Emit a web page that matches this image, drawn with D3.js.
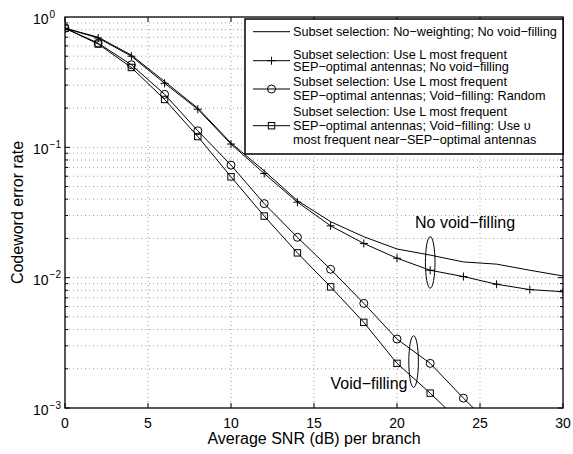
<!DOCTYPE html>
<html><head><meta charset="utf-8">
<script src="https://cdn.jsdelivr.net/npm/d3@7"></script>
<style>body{margin:0;background:#fff}svg{display:block}text{font-family:"Liberation Sans",Arial,Helvetica,sans-serif;fill:#000}</style>
</head><body><div id="chart"></div>
<script>
const snr = [0,2,4,6,8,10,12,14,16,18,20,22,24,26,28,30];
const noWeighting = [0.82,0.70,0.51,0.32,0.20,0.108,0.066,0.039,0.0269,0.0206,0.0166,0.0149,0.0132,0.0127,0.0114,0.0103];
const mostFreqNoVoid = [0.82,0.69,0.50,0.31,0.196,0.106,0.063,0.038,0.025,0.0183,0.0141,0.0114,0.0102,0.0089,0.0081,0.0078];
const voidRandom = [0.82,0.63,0.43,0.255,0.134,0.073,0.037,0.0204,0.0116,0.00635,0.00338,0.0022,0.00119,0.00067];
const voidNearOpt = [0.82,0.62,0.41,0.233,0.121,0.0594,0.0297,0.0155,0.0085,0.00454,0.0022,0.0013,0.00074];
const xTicks = [0,5,10,15,20,25,30];
const yDecades = [1,0.1,0.01,0.001];
const yExponents = ["0","−1","−2","−3"];
const legendLabels = [
  ["Subset selection: No−weighting; No void−filling"],
  ["Subset selection: Use L most frequent","SEP−optimal antennas; No void−filling"],
  ["Subset selection: Use L most frequent","SEP−optimal antennas; Void−filling: Random"],
  ["Subset selection: Use L most frequent","SEP−optimal antennas; Void−filling: Use υ","most frequent near−SEP−optimal antennas"]
];
const xLabel = "Average SNR (dB) per branch";
const yLabel = "Codeword error rate";
const annotations = [
  {text:"No void−filling", x:22, y:0.0131, tx:415, ty:228},
  {text:"Void−filling", x:21, y:0.00227, tx:330.5, ty:388.5}
];

const W=573,H=454, m={l:65,t:17,r:10,b:46};
const pw=W-m.l-m.r, ph=H-m.t-m.b;
const svg=d3.select("#chart").append("svg").attr("width",W).attr("height",H);
const x=d3.scaleLinear().domain([0,30]).range([m.l,m.l+pw]);
const y=d3.scaleLog().domain([0.001,1]).range([m.t+ph,m.t]);

svg.append("defs").append("clipPath").attr("id","clip").append("rect")
  .attr("x",m.l).attr("y",m.t).attr("width",pw).attr("height",ph);

// grid
const grid=svg.append("g").attr("stroke","#888").attr("stroke-width",0.8).attr("stroke-dasharray","1,3");
xTicks.slice(1,-1).forEach(t=>grid.append("line").attr("x1",x(t)).attr("x2",x(t)).attr("y1",m.t).attr("y2",m.t+ph));
const yGridVals=[];
[0.001,0.01,0.1].forEach(d=>{for(let k=1;k<=9;k++){yGridVals.push(d*k);}});
yGridVals.filter(v=>v>0.001&&v<1).forEach(v=>grid.append("line").attr("x1",m.l).attr("x2",m.l+pw).attr("y1",y(v)).attr("y2",y(v)));

// ticks
const tk=svg.append("g").attr("stroke","#000").attr("stroke-width",1);
xTicks.forEach(t=>{
  tk.append("line").attr("x1",x(t)).attr("x2",x(t)).attr("y1",m.t+ph).attr("y2",m.t+ph-5);
  tk.append("line").attr("x1",x(t)).attr("x2",x(t)).attr("y1",m.t).attr("y2",m.t+5);
});
yGridVals.forEach(v=>{
  const major=Math.abs(Math.log10(v)-Math.round(Math.log10(v)))<1e-9;
  const L=major?5:3;
  tk.append("line").attr("x1",m.l).attr("x2",m.l+L).attr("y1",y(v)).attr("y2",y(v));
  tk.append("line").attr("x1",m.l+pw).attr("x2",m.l+pw-L).attr("y1",y(v)).attr("y2",y(v));
});

// series
const plot=svg.append("g").attr("clip-path","url(#clip)");
const line=d3.line().x(d=>x(d[0])).y(d=>y(d[1]));
const series=[
  {vals:noWeighting, marker:null},
  {vals:mostFreqNoVoid, marker:"plus"},
  {vals:voidRandom, marker:"circle"},
  {vals:voidNearOpt, marker:"square"}
];
function drawMarker(g,type,cx,cy){
  if(type==="plus"){
    g.append("path").attr("d",`M${cx-4},${cy}H${cx+4}M${cx},${cy-4}V${cy+4}`).attr("stroke","#000").attr("stroke-width",1).attr("fill","none");
  }else if(type==="circle"){
    g.append("circle").attr("cx",cx).attr("cy",cy).attr("r",4).attr("stroke","#000").attr("stroke-width",1).attr("fill","none");
  }else if(type==="square"){
    g.append("rect").attr("x",cx-3.2).attr("y",cy-3.2).attr("width",6.4).attr("height",6.4).attr("stroke","#000").attr("stroke-width",1).attr("fill","none");
  }
}
series.forEach(s=>{
  const pts=s.vals.map((v,i)=>[snr[i],v]);
  plot.append("path").attr("d",line(pts)).attr("fill","none").attr("stroke","#000").attr("stroke-width",1);
  if(s.marker) pts.filter(p=>p[1]>=0.001).forEach(p=>drawMarker(plot,s.marker,x(p[0]),y(p[1])));
});

// annotation ellipses
annotations.forEach(a=>{
  const cy=y(a.y), ry=(y(a.y/Math.pow(10,0.198))-cy);
  svg.append("ellipse").attr("cx",x(a.x)).attr("cy",cy).attr("rx",4.8).attr("ry",ry).attr("fill","none").attr("stroke","#000").attr("stroke-width",1);
  svg.append("text").attr("x",a.tx).attr("y",a.ty).attr("font-size",16).text(a.text);
});

// frame
svg.append("rect").attr("x",m.l).attr("y",m.t).attr("width",pw).attr("height",ph).attr("fill","none").attr("stroke","#000").attr("stroke-width",1.3);

// tick labels
xTicks.forEach(t=>svg.append("text").attr("x",x(t)).attr("y",m.t+ph+19.5).attr("text-anchor","middle").attr("font-size",14).text(t));
yDecades.forEach((v,i)=>{
  const t=svg.append("text").attr("x",33).attr("y",y(v)+7).attr("font-size",14);
  t.append("tspan").text("10");
  t.append("tspan").attr("font-size",10).attr("dy",-6.5).attr("dx",1).text(yExponents[i]);
});

// axis labels
svg.append("text").attr("x",m.l+pw/2).attr("y",444).attr("text-anchor","middle").attr("font-size",16).text(xLabel);
svg.append("text").attr("transform",`translate(22.5,${m.t+ph/2}) rotate(-90)`).attr("text-anchor","middle").attr("font-size",16).text(yLabel);

// legend
const lg=svg.append("g");
lg.append("rect").attr("x",245).attr("y",19).attr("width",318).attr("height",135).attr("fill","#fff").attr("stroke","#000").attr("stroke-width",1.5);
const rowCenters=[[31.7],[54,66.7],[81.7,95.7],[111,125.7,139.3]];
const sampleY=[31.7,60.7,89,125.7];
legendLabels.forEach((lines,i)=>{
  lg.append("line").attr("x1",253).attr("x2",290).attr("y1",sampleY[i]).attr("y2",sampleY[i]).attr("stroke","#000").attr("stroke-width",1);
  if(series[i].marker) drawMarker(lg,series[i].marker,271.5,sampleY[i]);
  lines.forEach((ln,j)=>lg.append("text").attr("x",293).attr("y",rowCenters[i][j]+4.5).attr("font-size",12.7).text(ln));
});
</script></body></html>
